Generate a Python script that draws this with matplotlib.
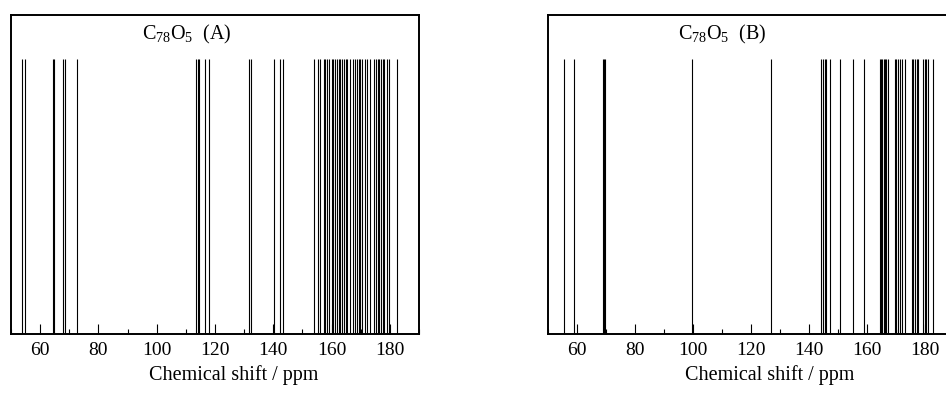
import matplotlib
matplotlib.use("Agg")
import matplotlib.pyplot as plt
from matplotlib.ticker import MultipleLocator

plt.rcParams["font.family"] = "Liberation Serif"
plt.rcParams["mathtext.fontset"] = "custom"
plt.rcParams["mathtext.rm"] = "Liberation Serif"
plt.rcParams["mathtext.it"] = "Liberation Serif:italic"

# chemical shifts (ppm)
shifts_a = [53.8, 54.8, 64.5, 64.8, 67.9, 68.4, 72.6, 113.6, 114.1, 114.6,
            116.6, 118.0, 131.8, 132.3, 140.2, 142.4, 143.2, 153.8, 155.5,
            156.0, 157.3, 157.9, 158.6, 159.1, 160.1, 160.6, 161.3, 161.9,
            162.4, 163.0, 163.5, 164.3, 164.9, 165.4, 166.3, 167.4, 168.1,
            168.7, 169.3, 169.9, 170.5, 171.3, 172.1, 173.3, 174.6, 175.2,
            175.8, 176.4, 177.0, 177.5, 178.0, 179.0, 179.7, 182.6]
shifts_b = [55.4, 58.8, 69.0, 69.4, 69.8, 99.7, 127.0, 144.3, 144.8, 145.4,
            146.0, 147.2, 150.8, 155.2, 158.9, 164.4, 164.8, 165.3, 165.8,
            166.3, 166.7, 167.3, 169.6, 170.1, 170.7, 171.3, 171.9, 173.1,
            175.4, 176.0, 176.6, 177.2, 177.7, 179.4, 179.9, 180.5, 181.1,
            182.8]
titles = [r"C$_{78}$O$_5$  (A)", r"C$_{78}$O$_5$  (B)"]

fig = plt.figure(figsize=(9.46, 3.94), dpi=100)
ax_a = fig.add_axes([11 / 946, 60 / 394, 408 / 946, 319 / 394])
ax_b = fig.add_axes([548 / 946, 60 / 394, 406 / 946, 319 / 394])

for ax, shifts, title in zip([ax_a, ax_b], [shifts_a, shifts_b], titles):
    ax.vlines(shifts, 0, 1, color="black", linewidth=0.8)
    ax.set_xlim(50, 190)
    ax.set_ylim(0, 1.16)
    ax.xaxis.set_minor_locator(MultipleLocator(10))
    ax.set_xticks([60, 80, 100, 120, 140, 160, 180])
    ax.tick_params(axis="x", which="major", direction="in", length=7, width=0.8,
                   labelsize=14, pad=6)
    ax.tick_params(axis="x", which="minor", direction="in", length=3.5, width=0.8)
    ax.set_yticks([])
    for s in ax.spines.values():
        s.set_linewidth(1.4)
    ax.text(0.43, 0.94, title, transform=ax.transAxes, ha="center", va="center",
            fontsize=14.5)
    ax.set_xlabel("Chemical shift / ppm", fontsize=14.5, labelpad=4)
    ax.xaxis.set_label_coords(0.546, -0.097)

fig.savefig("out.png", dpi=100)
